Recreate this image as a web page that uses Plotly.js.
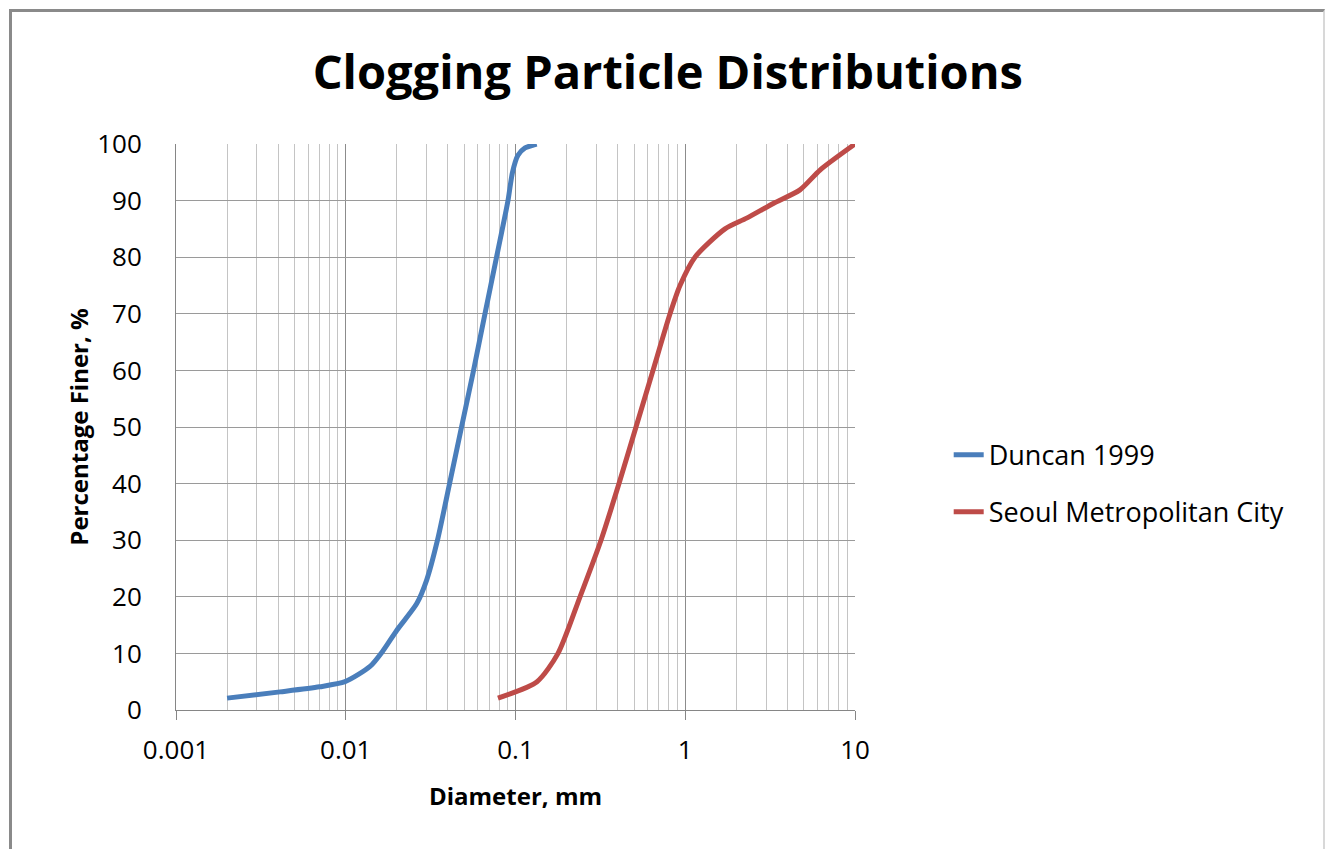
<!DOCTYPE html>
<html>
<head>
<meta charset="utf-8">
<script src="https://cdn.plot.ly/plotly-3.0.1.min.js"></script>
<style>
  html, body { margin: 0; padding: 0; background: #fff; }
  #wrap { position: relative; width: 1325px; height: 849px; overflow: hidden; }
  #chart { width: 1325px; height: 849px; }
  #frame { position: absolute; left: 9px; top: 9px; width: 1316px; height: 860px;
           border-left: 3px solid #8a8a8a; border-top: 3px solid #8a8a8a;
           border-right: 2px solid #d8d8d8; box-sizing: border-box; pointer-events: none; }
</style>
</head>
<body>
<div id="wrap">
  <div id="chart"></div>
  <div id="frame"></div>
</div>
<script>
// Duncan 1999 grain-size curve (diameter mm, % finer)
const duncanDiameter = [0.002, 0.0041, 0.0070, 0.0099, 0.0139, 0.0167, 0.0200, 0.0262, 0.0300, 0.0347, 0.0409, 0.0481, 0.0566, 0.0661, 0.0773, 0.0903, 0.0960, 0.1034, 0.1138, 0.1333];
const duncanFiner    = [2.1, 3.2, 4.1, 5.0, 7.7, 10.6, 14.1, 18.8, 23.0, 30.0, 40.0, 50.0, 60.0, 70.0, 80.0, 90.0, 95.0, 98.0, 99.3, 100];

// Seoul Metropolitan City curve
const seoulDiameter = [0.0788, 0.1339, 0.178, 0.2399, 0.3189, 0.4071, 0.5128, 0.6457, 0.8134, 0.9313, 1.141, 1.715, 2.30, 3.30, 4.74, 6.22, 10];
const seoulFiner    = [2.1, 5.0, 10.0, 20.0, 30.0, 40.0, 50.0, 60.0, 70.0, 75.0, 80.0, 85.0, 86.9, 89.5, 91.9, 95.4, 100];

const seriesNames = ["Duncan 1999", "Seoul Metropolitan City"];
const xTickVals = [0.001, 0.01, 0.1, 1, 10];
const xTickText = ["0.001", "0.01", "0.1", "1", "10"];
const yTickVals = [0, 10, 20, 30, 40, 50, 60, 70, 80, 90, 100];

const FONT = "Open Sans, Liberation Sans, sans-serif";

const traces = [
  { x: duncanDiameter, y: duncanFiner, name: seriesNames[0], legendgroup: "g1", type: "scatter", mode: "lines",
    line: { color: "#4a7ebb", width: 5, shape: "spline", smoothing: 0.7 } },
  { x: seoulDiameter, y: seoulFiner, name: seriesNames[1], legendgroup: "g2", type: "scatter", mode: "lines",
    line: { color: "#be4b48", width: 5, shape: "spline", smoothing: 0.7 } }
];

const layout = {
  width: 1325, height: 849,
  paper_bgcolor: "#ffffff", plot_bgcolor: "#ffffff",
  margin: { l: 176, r: 470, t: 144, b: 139 },
  font: { family: FONT, color: "#000000" },
  title: { text: "<b>Clogging Particle Distributions</b>", font: { family: FONT, size: 47, color: "#000" },
           x: 0.504, xref: "container", xanchor: "center", y: 0.915, yref: "container", yanchor: "middle" },
  showlegend: true,
  legend: { x: 1.138, xanchor: "left", y: 0.40, yanchor: "middle", font: { family: FONT, size: 27, color: "#000" },
            bgcolor: "rgba(0,0,0,0)", tracegroupgap: 19, itemwidth: 30 },
  xaxis: {
    type: "log", range: [-3, 1],
    tickvals: xTickVals, ticktext: xTickText,
    tickfont: { family: FONT, size: 26, color: "#000" },
    ticks: "outside", ticklen: 9, tickcolor: "#868686", tickwidth: 1,
    ticklabelstandoff: 8,
    showline: true, linecolor: "#868686", linewidth: 1,
    showgrid: true, gridcolor: "#8c8c8c", gridwidth: 1,
    minor: { dtick: "D1", showgrid: true, gridcolor: "#c4c4c4", gridwidth: 1, ticks: "" },
    zeroline: false,
    title: { text: "<b>Diameter, mm</b>", font: { family: FONT, size: 24, color: "#000" }, standoff: 21 }
  },
  yaxis: {
    range: [0, 100], tickvals: yTickVals,
    tickfont: { family: FONT, size: 26, color: "#000" },
    ticks: "", ticklabelstandoff: 28,
    showline: true, linecolor: "#868686", linewidth: 1,
    showgrid: true, gridcolor: "#9a9a9a", gridwidth: 1,
    zeroline: false,
    title: { text: "<b>Percentage Finer, %</b>", font: { family: FONT, size: 24, color: "#000" }, standoff: 1 }
  }
};

Plotly.newPlot("chart", traces, layout, { displayModeBar: false, staticPlot: true });
</script>
</body>
</html>
